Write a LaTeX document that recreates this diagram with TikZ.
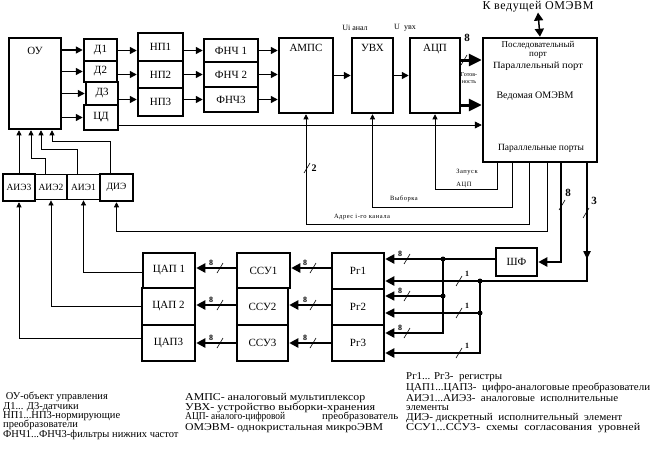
\documentclass[tikz,border=0pt]{standalone}
\usepackage{fontspec}
\setmainfont{Liberation Serif}
\usetikzlibrary{arrows.meta,decorations.markings}

\newcommand{\wline}[2]{\resizebox{#1}{\height}{#2}}

\begin{document}
\begin{tikzpicture}[x=1pt,y=-1pt,
        blk/.style={draw, line width=2.5pt, inner sep=0pt, font=\fontsize{11}{12}\selectfont},
        thinblk/.style={blk, line width=1.8pt},
        sz/.style 2 args={minimum width=#1pt, minimum height=#2pt},
        toplbl/.style 2 args={label={[anchor=north, inner sep=0pt, yshift=#1pt, font=\fontsize{11}{12}\selectfont]north:#2}},
        wire/.style={line width=0.8pt},
        up/.style={wire, -{Triangle[length=5pt,width=5pt]}},
        warr/.style={wire, -{Triangle[length=7pt,width=7pt]}},
        arr/.style={line width=1.4pt, -{Triangle[length=7pt,width=7pt]}},
        bus/.style={line width=2.5pt, -{Triangle[length=9pt,width=9pt]}},
        thinbus/.style={line width=1.2pt, -{Triangle[length=9pt,width=9pt]}},
        fatbus/.style={line width=3pt, -{Triangle[length=13pt,width=12pt]}},
        dbl/.style={line width=1.5pt, {Triangle[length=8pt,width=9pt]}-{Triangle[length=8pt,width=9pt]}},
        midarr/.style={postaction={decorate, decoration={markings, mark=at position #1 with {\arrow{Triangle[length=8pt,width=7pt]}}}}},
        dot/.style={circle, fill, inner sep=0pt, minimum size=5pt},
        num/.style={font=\fontsize{8}{9}\selectfont\bfseries, inner sep=0pt},
        bignum/.style={font=\fontsize{11}{12}\selectfont\bfseries, inner sep=0pt},
        small/.style={font=\fontsize{8}{9}\selectfont, inner sep=0pt},
        tiny/.style={font=\fontsize{6.5}{7}\selectfont\addfontfeature{LetterSpace=8}, inner sep=0pt, align=center},
        mcutxt/.style={font=\fontsize{9.5}{10}\selectfont, inner sep=0pt},
        legend/.style={font=\fontsize{10.5}{11}\selectfont, anchor=west, inner sep=0pt},
        busmark/.pic={\draw[line width=0.6pt] (-3,5) -- (3,-5);}
    ]
    \useasboundingbox (0,0) rectangle (655,452);

    % upper chain
    \node[blk, sz={52}{91}, toplbl={-10}{ОУ}] (ou) at (35,83.5) {};
    \node[blk, sz={33}{22}] (d1) at (100.5,50) {Д1};
    \node[blk, sz={33}{21}] (d2) at (100.5,71.5) {Д2};
    \node[blk, sz={32}{23}] (d3) at (102,93.5) {Д3};
    \node[blk, sz={34}{25}] (cd) at (101,117.5) {ЦД};
    \node[blk, sz={45}{28}] (np1) at (160.5,47) {НП1};
    \node[blk, sz={45}{27}] (np2) at (160.5,74.5) {НП2};
    \node[blk, sz={45}{28}] (np3) at (160.5,102) {НП3};
    \node[blk, sz={54}{23}] (f1) at (231,50.5) {ФНЧ 1};
    \node[blk, sz={54}{25}] (f2) at (231,74.5) {ФНЧ 2};
    \node[blk, sz={54}{25}] (f3) at (231,99.5) {ФНЧ3};
    \node[blk, sz={54}{75}, toplbl={-7}{АМПС}] (amps) at (306,75.5) {};
    \node[blk, sz={41}{75}, toplbl={-7}{УВХ}] (uvx) at (372.5,75.5) {};
    \node[blk, sz={50}{75}, toplbl={-7}{АЦП}] (adc) at (435,75.5) {};
    \node[blk, sz={114}{124}] (mcu) at (540,100) {};

    \node[mcutxt, font=\fontsize{9}{8.5}\selectfont, align=center] (ser) at (538,50) {Последовательный\\порт};
    \node[mcutxt] (par) at (538,66) {\wline{90pt}{Параллельный порт}};
    \node[mcutxt, font=\fontsize{10}{11}\selectfont] (slave) at (535,96) {Ведомая ОМЭВМ};
    \node[mcutxt] (ports) at (541,148) {\wline{86pt}{Параллельные порты}};
    \node[font=\fontsize{12}{13}\selectfont\addfontfeature{LetterSpace=5}, inner sep=0pt] (master) at (538,7) {К ведущей ОМЭВМ};
    \node[small] (uin) at (355,28) {Ui анал};
    \node[small] (uout) at (405,28) {U\ \ увх};

    % executive elements
    \node[blk, sz={32}{27}, font=\fontsize{9.5}{10}\selectfont] (aie3) at (19,187.5) {АИЭ3};
    \node[thinblk, sz={32}{25}, font=\fontsize{9.5}{10}\selectfont] (aie2) at (51,187) {АИЭ2};
    \node[thinblk, sz={33}{25}, font=\fontsize{9.5}{10}\selectfont] (aie1) at (83.5,187) {АИЭ1};
    \node[blk, sz={33}{27}, font=\fontsize{9.5}{10}\selectfont] (die) at (116.5,187.5) {ДИЭ};

    % output chain
    \node[blk, sz={52}{35}] (dac1) at (169,270.5) {ЦАП 1};
    \node[blk, sz={53}{37}] (dac2) at (168.5,306.5) {ЦАП 2};
    \node[blk, sz={53}{36}] (dac3) at (168.5,343) {ЦАП3};
    \node[blk, sz={53}{35}] (ssu1) at (263.5,270.5) {ССУ1};
    \node[blk, sz={51}{37}] (ssu2) at (262.5,306.5) {ССУ2};
    \node[blk, sz={51}{36}] (ssu3) at (262.5,343) {ССУ3};
    \node[blk, sz={52}{36}] (rg1) at (358,271) {Рг1};
    \node[blk, sz={52}{36}] (rg2) at (358,307) {Рг2};
    \node[blk, sz={52}{36}] (rg3) at (358,343) {Рг3};
    \node[blk, sz={41}{28}] (shf) at (516.5,262) {ШФ};

    % signal path
    \draw[arr] (d1.west -| ou.east) -- (d1.west);
    \draw[arr] (d2.west -| ou.east) -- (d2.west);
    \draw[arr] (d3.west -| ou.east) -- (d3.west);
    \draw[arr] (cd.west -| ou.east) -- (cd.west);
    \draw[arr] (f1 -| d1.east) -- (f1 -| np1.west);
    \draw[arr] (f2 -| d2.east) -- (f2 -| np2.west);
    \draw[arr] (f3 -| d3.east) -- (f3 -| np3.west);
    \draw[arr] (f1 -| np1.east) -- (f1.west);
    \draw[arr] (f2 -| np2.east) -- (f2.west);
    \draw[arr] (f3 -| np3.east) -- (f3.west);
    \draw[arr] (f1.east) -- (f1 -| amps.west);
    \draw[arr] (f2.east) -- (f2 -| amps.west);
    \draw[arr] (f3.east) -- (f3 -| amps.west);
    \draw[arr] (amps.east) -- (uvx.west);
    \draw[arr] (uvx.east) -- (adc.west);
    \draw[fatbus] (adc.east |- 0,60) -- (mcu.west |- 0,60);
    \draw[fatbus] (adc.east |- 0,105) -- (mcu.west |- 0,105);
    \draw[warr] (cd.east |- 0,125) -- (mcu.west |- 0,125);
    \draw[dbl] (master.south) -- (mcu.north);
    \pic at (464,60) {busmark};
    \node[bignum] (n8a) at (467,38) {8};
    \node[tiny, font=\fontsize{6}{6.5}\selectfont] (rdy) at (469,78) {Готов-\\ность};

    % control lines from the slave MCU
    \draw[up] (mcu.south -| 497,0) -- (497,189) -| (adc.south);
    \draw[up] (mcu.south -| 512,0) -- (512,207) -| (uvx.south);
    \draw[up] (mcu.south -| 529,0) -- (529,224) -| (amps.south);
    \draw[up] (mcu.south -| 547,0) -- (547,231) -| (die.south);
    \node[tiny] (start) at (467,172) {Запуск};
    \node[tiny] (startb) at (464,185) {АЦП};
    \node[tiny] (sel) at (404,199) {Выборка};
    \node[tiny] (addr) at (362,217) {Адрес i-го канала};
    \pic at (307,168) {busmark};
    \node[bignum, font=\fontsize{10}{11}\selectfont\bfseries] (n2) at (314,168) {2};

    % buses to registers
    \coordinate (j8) at (443,259);
    \coordinate (j1) at (480,281);
    \draw[bus] (mcu.south -| 561,0) |- (shf.east);
    \draw[bus, midarr=0.3] (mcu.south -| 587,0) -- (587,281) -- (rg1.east |- 0,281);
    \draw[bus] (shf.west |- 0,259) -- (rg1.east |- 0,259);
    \draw[bus] (j8) |- (rg3.east |- 0,333);
    \draw[thinbus] (j8 |- 0,296) -- (rg2.east |- 0,296);
    \draw[bus] (j1) |- (rg3.east |- 0,353);
    \draw[thinbus] (j1 |- 0,313) -- (rg2.east |- 0,313);
    \node[dot] (dj8) at (j8) {};
    \node[dot] (dj8b) at (j8 |- 0,296) {};
    \node[dot] (dj1) at (j1) {};
    \node[dot] (dj1b) at (j1 |- 0,313) {};
    \pic at (562,205) {busmark};
    \node[bignum] (n8b) at (568,193) {8};
    \pic at (586,213) {busmark};
    \node[bignum] (n3) at (594,201) {3};
    \pic at (407,259) {busmark};
    \node[num] (r8a) at (400,254) {8};
    \pic at (407,296) {busmark};
    \node[num] (r8b) at (400,291) {8};
    \pic at (407,333) {busmark};
    \node[num] (r8c) at (400,328) {8};
    \pic at (459,281) {busmark};
    \node[num] (r1a) at (467,274) {1};
    \pic at (459,313) {busmark};
    \node[num] (r1b) at (467,306) {1};
    \pic at (459,353) {busmark};
    \node[num] (r1c) at (467,346) {1};

    % registers -> level shifters -> DACs
    \draw[bus] (rg1.west |- 0,268) -- (ssu1.east |- 0,268);
    \draw[bus] (rg2.west |- 0,305) -- (ssu2.east |- 0,305);
    \draw[bus] (rg3.west |- 0,343) -- (ssu3.east |- 0,343);
    \draw[bus] (ssu1.west |- 0,268) -- (dac1.east |- 0,268);
    \draw[bus] (ssu2.west |- 0,305) -- (dac2.east |- 0,305);
    \draw[bus] (ssu3.west |- 0,343) -- (dac3.east |- 0,343);
    \pic at (313,268) {busmark};
    \node[num] (s8a) at (305,263) {8};
    \pic at (313,305) {busmark};
    \node[num] (s8b) at (305,300) {8};
    \pic at (313,343) {busmark};
    \node[num] (s8c) at (305,338) {8};
    \pic at (220,268) {busmark};
    \node[num] (c8a) at (211,263) {8};
    \pic at (220,305) {busmark};
    \node[num] (c8b) at (211,300) {8};
    \pic at (220,343) {busmark};
    \node[num] (c8c) at (211,338) {8};

    % DACs -> executive elements -> object
    \draw[up] (dac1.west |- 0,272) -| (aie1.south);
    \draw[up] (dac2.west |- 0,306) -| (aie2.south);
    \draw[up] (dac3.west |- 0,338) -| (aie3.south);
    \draw[up] (aie3.north) -- (aie3.north |- ou.south);
    \draw[up] ([xshift=-6pt]aie2.north) |- (31,158) -- (ou.south -| 31,0);
    \draw[up] ([xshift=-6.5pt]aie1.north) |- (41,149) -- (ou.south -| 41,0);
    \draw[up] ([xshift=-6.5pt]die.north) |- (52,141) -- (ou.south -| 52,0);

    % legend
    \node[legend] (l1) at (3,397) {\ ОУ-объект управления};
    \node[legend] (l2) at (3,407) {Д1... Д3-датчики};
    \node[legend] (l3) at (3,416) {НП1...НП3-нормирующие};
    \node[legend] (l4) at (3,425) {преобразователи};
    \node[legend] (l5) at (3,435) {ФНЧ1...ФНЧ3-фильтры нижних частот};
    \node[legend] (m1) at (185,398) {\wline{180pt}{АМПС- аналоговый мультиплексор}};
    \node[legend] (m2) at (185,408) {\wline{190pt}{УВХ- устройство выборки-хранения}};
    \node[legend] (m3) at (185,417) {\makebox[213pt][l]{\wline{100pt}{АЦП- аналого-цифровой}\hfill\wline{76pt}{преобразователь}}};
    \node[legend] (m4) at (185,428) {\wline{198pt}{ОМЭВМ- однокристальная микроЭВМ}};
    \node[legend] (r1) at (406,377) {\wline{96pt}{Рг1... Рг3-\ \ регистры}};
    \node[legend] (r2) at (406,388) {\wline{244pt}{ЦАП1...ЦАП3-\ \ цифро-аналоговые преобразователи}};
    \node[legend] (r3) at (406,398) {\wline{212pt}{АИЭ1...АИЭ3-\ \ аналоговые\ \ исполнительные}};
    \node[legend] (r4) at (406,408) {элементы};
    \node[legend] (r5) at (406,418) {\wline{216pt}{ДИЭ- дискретный\ \ исполнительный\ \ элемент}};
    \node[legend] (r6) at (406,428) {\wline{234pt}{ССУ1...ССУ3-\ \ схемы\ \ согласования\ \ уровней}};
\end{tikzpicture}
\end{document}
